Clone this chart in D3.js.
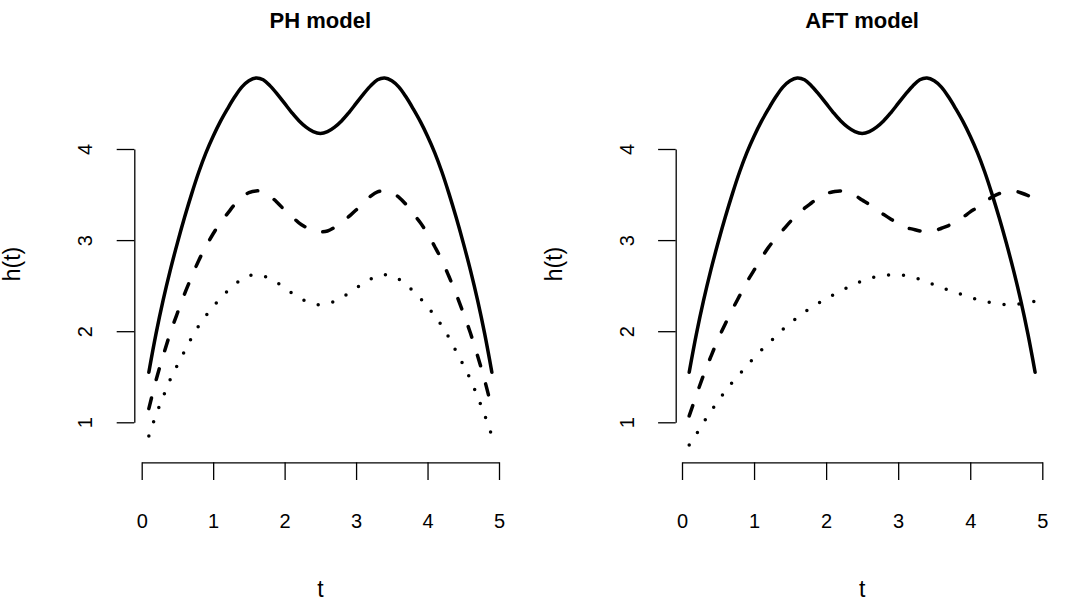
<!DOCTYPE html>
<html>
<head>
<meta charset="utf-8">
<script src="https://cdn.jsdelivr.net/npm/d3@7"></script>
<style>
  body { margin: 0; background: #fff; }
  text { font-family: "Liberation Sans", Arial, Helvetica, sans-serif; fill: #000; }
</style>
</head>
<body>
<svg id="chart" width="1066" height="601"></svg>
<script>
// time grid shared by every curve
var tGrid = [0.1,0.2,0.3,0.4,0.5,0.6,0.7,0.8,0.9,1.0,1.1,1.2,1.3,1.4,1.5,1.6,1.7,1.8,1.9,2.0,
  2.1,2.2,2.3,2.4,2.5,2.6,2.7,2.8,2.9,3.0,3.1,3.2,3.3,3.4,3.5,3.6,3.7,3.8,3.9,4.0,
  4.1,4.2,4.3,4.4,4.5,4.6,4.7,4.8,4.9];

// baseline hazard (solid line, same in both panels)
var baseline = [1.55,1.97,2.34,2.67,2.97,3.25,3.51,3.75,3.96,4.14,4.30,4.44,4.57,4.68,4.75,4.78,4.76,4.69,4.60,4.50,
  4.40,4.31,4.24,4.19,4.17,4.19,4.24,4.31,4.40,4.50,4.60,4.69,4.76,4.78,4.75,4.68,4.57,4.44,4.30,4.14,
  3.96,3.75,3.51,3.25,2.97,2.67,2.34,1.97,1.55];

// PH model
var phDashed = [1.15,1.46,1.73,1.98,2.20,2.41,2.60,2.78,2.93,3.07,3.19,3.29,3.39,3.47,3.52,3.54,3.53,3.48,3.41,3.33,
  3.26,3.19,3.14,3.10,3.09,3.10,3.14,3.19,3.26,3.33,3.41,3.48,3.53,3.54,3.52,3.47,3.39,3.29,3.19,3.07,
  2.93,2.78,2.60,2.41,2.20,1.98,1.73,1.46,1.15];
var phDotted = [0.85,1.08,1.28,1.47,1.63,1.78,1.93,2.06,2.17,2.27,2.36,2.44,2.51,2.57,2.61,2.62,2.61,2.57,2.53,2.47,
  2.42,2.37,2.33,2.30,2.29,2.30,2.33,2.37,2.42,2.47,2.53,2.57,2.61,2.62,2.61,2.57,2.51,2.44,2.36,2.27,
  2.17,2.06,1.93,1.78,1.63,1.47,1.28,1.08,0.85];

// AFT model
var aftDashed = [1.07,1.30,1.52,1.72,1.91,2.08,2.24,2.39,2.54,2.67,2.80,2.92,3.02,3.11,3.20,3.28,3.35,3.41,3.47,3.51,
  3.53,3.54,3.52,3.49,3.44,3.39,3.33,3.28,3.23,3.18,3.14,3.12,3.10,3.09,3.10,3.13,3.16,3.20,3.25,3.31,
  3.36,3.42,3.47,3.51,3.53,3.54,3.52,3.49,3.44];
var aftDotted = [0.75,0.87,1.00,1.12,1.23,1.34,1.44,1.53,1.62,1.71,1.79,1.87,1.94,2.02,2.09,2.15,2.21,2.26,2.31,2.36,
  2.40,2.44,2.48,2.52,2.55,2.58,2.60,2.61,2.62,2.62,2.61,2.59,2.57,2.54,2.51,2.48,2.45,2.42,2.40,2.37,
  2.35,2.33,2.31,2.30,2.29,2.29,2.30,2.31,2.33];

var xTicks = [0, 1, 2, 3, 4, 5];
var yTicks = [1, 2, 3, 4];
var titles = ["PH model", "AFT model"];
var xLabel = "t";
var yLabel = "h(t)";

// layout (pixels)
var panels = [
  { title: titles[0], x0: 141.7, x1: 499, yAxisX: 134.3, series: [baseline, phDashed, phDotted] },
  { title: titles[1], x0: 682, x1: 1042.3, yAxisX: 675.7, series: [baseline, aftDashed, aftDotted] }
];
var yTop = 149, yBottom = 422.3, xAxisY = 462.3;
var dashes = [null, "11 19", "0 15"];

var svg = d3.select("#chart");
var y = d3.scaleLinear().domain([1, 4]).range([yBottom, yTop]);

panels.forEach(function(p) {
  var x = d3.scaleLinear().domain([0, 5]).range([p.x0, p.x1]);
  var g = svg.append("g");
  var mid = (p.x0 + p.x1) / 2;

  // x axis
  var gx = g.append("g")
    .attr("transform", "translate(0," + xAxisY + ")")
    .call(d3.axisBottom(x).tickValues(xTicks).tickSize(17.7).tickSizeOuter(0).tickFormat(d3.format("d")));
  gx.selectAll("text").attr("y", 65.4).attr("dy", "0").style("font-size", "20px");

  // y axis, labels turned like base R
  var gy = g.append("g")
    .attr("transform", "translate(" + p.yAxisX + ",0)")
    .call(d3.axisLeft(y).tickValues(yTicks).tickSize(17.6).tickSizeOuter(0).tickFormat(d3.format("d")));
  gy.selectAll("text")
    .attr("transform", "rotate(-90)")
    .attr("x", 0).attr("y", -42).attr("dy", "0")
    .attr("text-anchor", "middle")
    .style("font-size", "20px");

  [gx, gy].forEach(function(a) {
    a.selectAll("path, line").attr("stroke", "#000").attr("stroke-width", 1.3);
    a.attr("font-family", null).attr("font-size", null);
  });

  // curves
  var line = d3.line()
    .x(function(d, i) { return x(tGrid[i]); })
    .y(function(d) { return y(d); })
    .curve(d3.curveCatmullRom);

  p.series.forEach(function(s, k) {
    g.append("path")
      .attr("d", line(s))
      .attr("fill", "none")
      .attr("stroke", "#000")
      .attr("stroke-width", 3.5)
      .attr("stroke-linecap", "round")
      .attr("stroke-dasharray", dashes[k]);
  });

  // titles and axis labels
  g.append("text")
    .attr("x", mid).attr("y", 28)
    .attr("text-anchor", "middle")
    .style("font-size", "22px").style("font-weight", "bold")
    .text(p.title);

  g.append("text")
    .attr("x", mid).attr("y", 597)
    .attr("text-anchor", "middle")
    .style("font-size", "23px")
    .text(xLabel);

  g.append("text")
    .attr("transform", "translate(" + (p.yAxisX - 114) + ",264) rotate(-90)")
    .attr("text-anchor", "middle")
    .style("font-size", "23px")
    .text(yLabel);
});
</script>
</body>
</html>
